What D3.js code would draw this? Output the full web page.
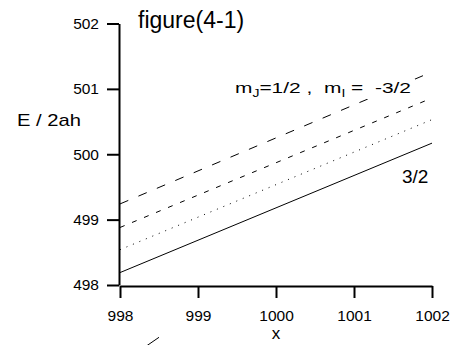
<!DOCTYPE html>
<html lang="en">
<head>
<meta charset="UTF-8">
<title>figure(4-1)</title>
<script src="https://d3js.org/d3.v7.min.js"></script>
<style>
  body { margin: 0; background: #fff; }
  text { font-family: "Liberation Sans", Arial, Helvetica, sans-serif; fill: #000; }
</style>
</head>
<body>
<svg width="458" height="345"></svg>
<script>
// values (line ends at x = 998 and 1002)
let xEnds = [998, 1002]
let solid = [498.19, 500.17]     // 3/2
let dotted = [498.54, 500.53]
let shortDash = [498.88, 500.86]
let longDash = [499.24, 501.26]  // mJ=1/2, mI=-3/2
let xTicks = [998, 999, 1000, 1001, 1002]
let yTicks = [498, 499, 500, 501, 502]
// small stray dash below the x axis
let strayX = [998.33, 998.5]
let strayY = [497.06, 497.2]

let svg = d3.select('svg')
let x = d3.scaleLinear().domain([998, 1002]).range([120, 432])
let y = d3.scaleLinear().domain([498, 502]).range([285, 23.5])

// lines
let series = [
    { v: solid, dash: null },
    { v: dotted, dash: "1,6" },
    { v: shortDash, dash: "5,8" },
    { v: longDash, dash: "9,11" }
]
let line = d3.line().x(function (d) { return x(d[0]) }).y(function (d) { return y(d[1]) })
svg.append("g").selectAll("path")
    .data(series)
    .enter()
    .append("path")
    .attr("d", function (d) { return line(xEnds.map(function (xv, i) { return [xv, d.v[i]] })) })
    .attr("fill", "none")
    .attr("stroke", "#000")
    .attr("stroke-width", 1)
    .attr("stroke-dasharray", function (d) { return d.dash })

svg.append("path")
    .attr("d", line(strayX.map(function (xv, i) { return [xv, strayY[i]] })))
    .attr("stroke", "#000")
    .attr("stroke-width", 1)

// axes (2px lines on whole pixels)
let yAxis = svg.append("g")
    .attr("transform", "translate(119,0)")
    .call(d3.axisLeft(y).tickValues(yTicks).tickSize(12).tickSizeOuter(0).tickPadding(8).tickFormat(d3.format("d")))
let xAxis = svg.append("g")
    .attr("transform", "translate(0,286)")
    .call(d3.axisBottom(x).tickValues(xTicks).tickSize(12).tickSizeOuter(0).tickPadding(12).tickFormat(d3.format("d")))
svg.selectAll(".domain, .tick line").attr("stroke", "#000").attr("stroke-width", 2)
svg.selectAll(".tick text").attr("font-size", 15.5).attr("font-family", null).attr("fill", "#000")

// labels
svg.append("text").attr("x", 138).attr("y", 28).attr("font-size", 23).text("figure(4-1)")
svg.append("text").attr("x", 17).attr("y", 126).attr("font-size", 17)
    .attr("textLength", 64).attr("lengthAdjust", "spacingAndGlyphs").text("E / 2ah")
svg.append("text").attr("x", x(1000)).attr("y", 339).attr("font-size", 17)
    .attr("text-anchor", "middle").text("x")
svg.append("text").attr("x", 402).attr("y", 183).attr("font-size", 19).text("3/2")

// legend label sits on a white box that hides the dashes behind it
let labG = svg.append("g")
let bg = labG.append("rect").attr("fill", "#fff")
let lab = labG.append("text").attr("x", 235).attr("y", 93).attr("font-size", 15).attr("xml:space", "preserve")
    .attr("textLength", 176).attr("lengthAdjust", "spacingAndGlyphs")
lab.append("tspan").text("m")
lab.append("tspan").attr("font-size", 10).attr("dy", 4).text("J")
lab.append("tspan").attr("dy", -4).text("=1/2 ,  m")
lab.append("tspan").attr("font-size", 10).attr("dy", 4).text("I")
lab.append("tspan").attr("dy", -4).text(" =  -3/2")
let bb = lab.node().getBBox()
bg.attr("x", bb.x - 2).attr("y", bb.y).attr("width", bb.width + 6).attr("height", bb.height)
</script>
</body>
</html>
